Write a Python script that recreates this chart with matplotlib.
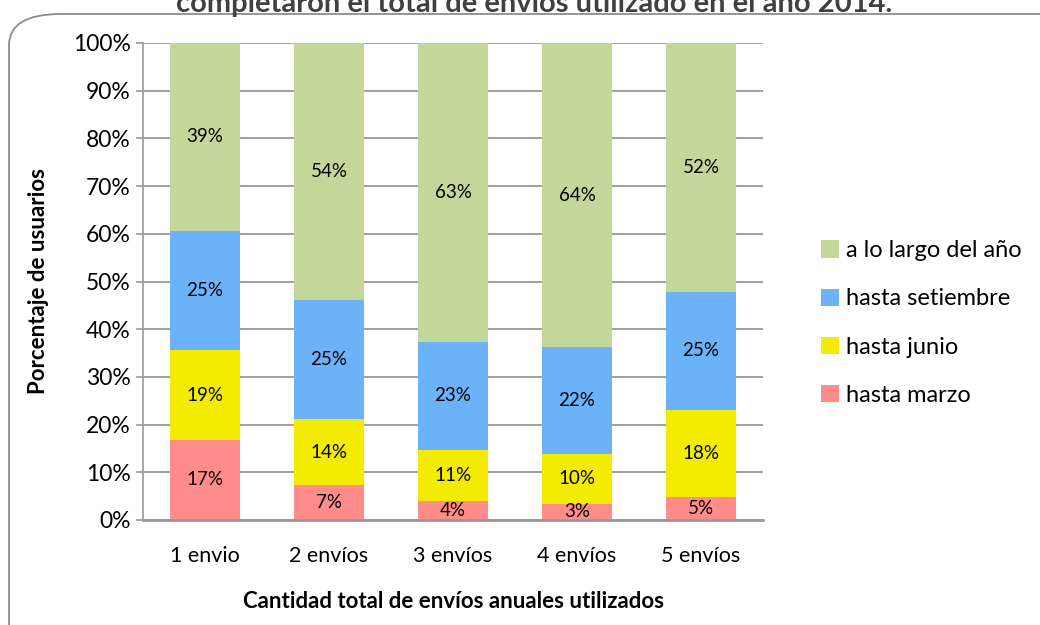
import matplotlib
matplotlib.use('Agg')
from matplotlib import pyplot as plt
from matplotlib.patches import FancyBboxPatch
from matplotlib.ticker import PercentFormatter
import numpy as np

plt.rcParams['font.family'] = ['Lato', 'DejaVu Sans']

# datos (porcentaje de usuarios)
categorias = ['1 envio', '2 envíos', '3 envíos', '4 envíos', '5 envíos']
hasta_marzo = [16.8, 7.3, 4.0, 3.4, 4.9]
hasta_junio = [18.8, 13.9, 10.6, 10.4, 18.2]
hasta_setiembre = [25.0, 24.9, 22.8, 22.4, 24.7]
largo_anio = [39.4, 53.9, 62.6, 63.8, 52.2]

series = [('hasta marzo', hasta_marzo, '#FF8B8B'),
          ('hasta junio', hasta_junio, '#F3EC00'),
          ('hasta setiembre', hasta_setiembre, '#6CB2F8'),
          ('a lo largo del año', largo_anio, '#C4D79B')]

fig = plt.figure(figsize=(10.4, 6.25), dpi=100)
ax = fig.add_axes([143 / 1040, 1 - 520 / 625, 620 / 1040, 477 / 625])

x = np.arange(len(categorias))
base = np.zeros(len(categorias))
handles = []
for nombre, vals, color in series:
    vals = np.array(vals)
    b = ax.bar(x, vals, 0.565, bottom=base, color=color, label=nombre, zorder=3)
    handles.append(b)
    for xi, bi, v in zip(x, base, vals):
        ax.text(xi, bi + v / 2, '%d%%' % round(v), ha='center', va='center',
                fontsize=13.5, zorder=4)
    base = base + vals

ax.set_xlim(-0.5, len(categorias) - 0.5)
ax.set_ylim(0, 100)
ax.set_yticks(np.arange(0, 101, 10))
ax.yaxis.set_major_formatter(PercentFormatter(decimals=0))
ax.set_xticks(x)
ax.set_xticklabels(categorias)
ax.tick_params(axis='y', labelsize=16.5, length=5, color='#9A9A9A', width=1.2, pad=4)
ax.tick_params(axis='x', labelsize=15.5, length=0, pad=19)
ax.grid(axis='y', color='#A0A0A0', linewidth=1.4, zorder=0)
for s in ['top', 'right']:
    ax.spines[s].set_visible(False)
ax.spines['left'].set_color('#9A9A9A')
ax.spines['left'].set_linewidth(1.2)
ax.spines['bottom'].set_color('#9A9A9A')
ax.spines['bottom'].set_linewidth(2)
ax.spines['bottom'].set_zorder(5)

ax.set_ylabel('Porcentaje de usuarios', fontsize=16, fontweight='bold', labelpad=17)
ax.set_xlabel('Cantidad total de envíos anuales utilizados', fontsize=16,
              fontweight='bold', labelpad=18)

ax.legend(handles[::-1], [h.get_label() for h in handles[::-1]],
          loc='center left', bbox_to_anchor=(800 / 1040, 1 - 323 / 625),
          bbox_transform=fig.transFigure, frameon=False, fontsize=17,
          handlelength=0.75, handleheight=0.75, handletextpad=0.3,
          labelspacing=1.15)

# titulo cortado arriba (como en la imagen original)
fig.text(534 / 1040, 1 - 12 / 625, 'completaron el total de envíos utilizado en el año 2014.',
         ha='center', va='baseline', fontsize=21, fontweight='bold', color='#404040')

# borde redondeado
borde = FancyBboxPatch((9 / 1040, -0.1), 1.2, 1 - 14 / 625 + 0.1,
                       boxstyle='round,pad=0,rounding_size=0.05',
                       transform=fig.transFigure, fill=False,
                       edgecolor='#8C8C8C', linewidth=1.3)
fig.patches.append(borde)

fig.savefig('out.png', dpi=100)
